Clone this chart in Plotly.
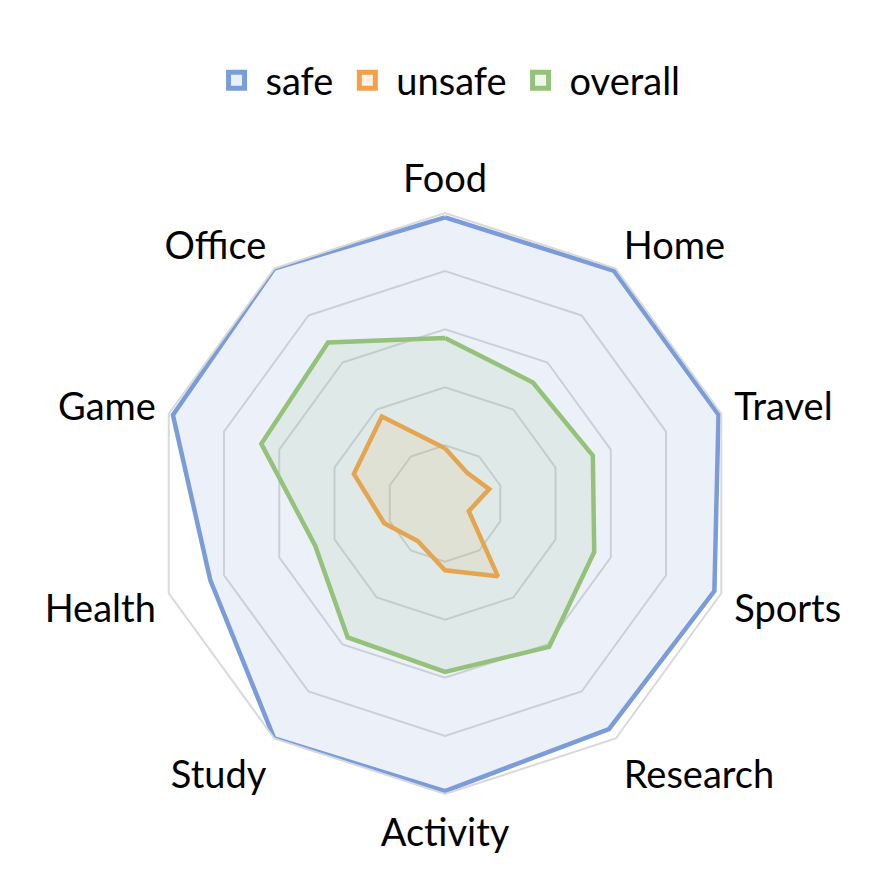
import plotly.graph_objects as go

CATEGORIES = ["Food", "Home", "Travel", "Sports", "Research",
              "Activity", "Study", "Health", "Game", "Office"]
SAFE = [98.5, 99, 99, 97.5, 96, 99, 100, 85, 98.5, 100]
UNSAFE = [19, 13, 16, 8.6, 31, 23, 16, 22, 33, 37]
OVERALL = [57, 51.5, 53.5, 54, 61, 58, 57, 47, 66.5, 68.5]

FONT = "Lato"
GRID = "#D9D9D9"

SERIES = [
    ("safe", SAFE, "#7A9CD8", "rgba(122,156,216,0.15)", "#EAF0F9"),
    ("unsafe", UNSAFE, "#F2A14A", "rgba(242,161,74,0.12)", "#FDF1E6"),
    ("overall", OVERALL, "#95C27A", "rgba(149,194,122,0.13)", "#EFF6EB"),
]

fig = go.Figure()
for name, vals, line_col, fill_col, key_col in SERIES:
    fig.add_trace(
        go.Scatterpolar(
            r=vals + vals[:1],
            theta=CATEGORIES + CATEGORIES[:1],
            name=name,
            legendgroup=name,
            showlegend=False,
            mode="lines",
            fill="toself",
            fillcolor=fill_col,
            line=dict(color=line_col, width=4.5),
        )
    )
    # legend key: square swatch like the spreadsheet legend
    fig.add_trace(
        go.Scatterpolar(
            r=[None],
            theta=[CATEGORIES[0]],
            name=name,
            legendgroup=name,
            mode="markers",
            marker=dict(symbol="square", size=23, color=key_col,
                        line=dict(color=line_col, width=5)),
        )
    )

fig.update_layout(
    width=895,
    height=884,
    margin=dict(l=0, r=0, t=0, b=0),
    paper_bgcolor="white",
    plot_bgcolor="white",
    font=dict(family=FONT, size=38, color="black"),
    showlegend=True,
    legend=dict(
        orientation="h",
        x=0.49,
        xanchor="center",
        y=0.918,
        yanchor="middle",
        font=dict(size=38),
        itemwidth=48,
        tracegroupgap=0,
    ),
    polar=dict(
        domain=dict(x=[0.1637, 0.8129], y=[0.1109, 0.7681]),
        bgcolor="rgba(0,0,0,0)",
        gridshape="linear",
        radialaxis=dict(
            range=[0, 100],
            dtick=20,
            showticklabels=False,
            ticks="",
            showline=False,
            gridcolor=GRID,
            gridwidth=2,
        ),
        angularaxis=dict(
            direction="clockwise",
            rotation=90,
            showgrid=False,
            showline=True,
            linecolor=GRID,
            linewidth=2,
            ticks="outside",
            ticklen=5,
            tickcolor="rgba(0,0,0,0)",
            tickfont=dict(size=38),
        ),
    ),
)

fig.write_html("out.html")
